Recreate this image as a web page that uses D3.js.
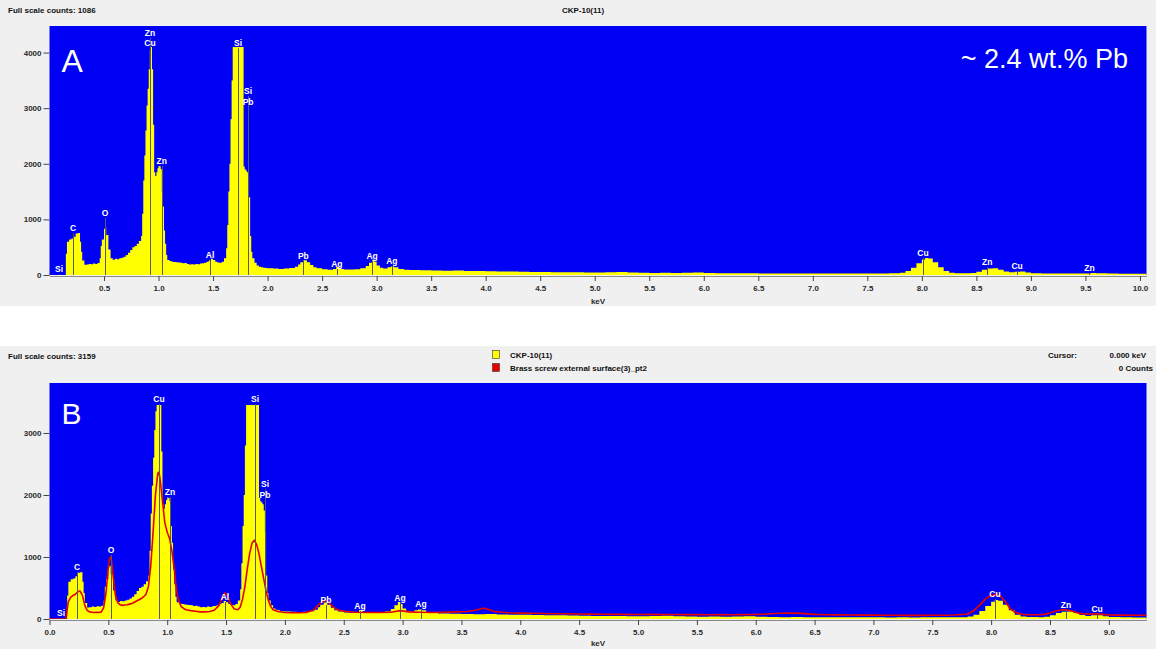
<!DOCTYPE html>
<html>
<head>
<meta charset="utf-8">
<script src="https://cdn.jsdelivr.net/npm/d3@7"></script>
<style>
  html, body { margin: 0; padding: 0; background: #ffffff; }
  svg { display: block; }
  text { font-family: "Liberation Sans", Arial, sans-serif; }
</style>
</head>
<body>
<svg id="chart" width="1156" height="649"></svg>
<script>
// ---- Spectrum of sample CKP-10(11): [keV, counts] ----
const sampleSpectrum = [
  [0.00,0],[0.14,0],[0.15,380],[0.16,600],[0.18,640],[0.20,655],[0.22,690],[0.24,745],[0.26,755],
  [0.28,600],[0.29,420],[0.30,260],[0.32,185],[0.34,190],[0.36,200],[0.38,195],[0.40,205],[0.42,200],
  [0.44,215],[0.46,300],[0.47,520],[0.48,640],[0.50,830],[0.51,860],[0.52,720],[0.54,460],[0.56,300],
  [0.58,275],[0.60,290],[0.62,285],[0.64,300],[0.66,310],[0.68,330],[0.70,360],[0.72,400],[0.74,450],
  [0.76,500],[0.78,520],[0.80,560],[0.82,610],[0.84,700],[0.85,1100],[0.86,1700],[0.87,2150],[0.88,2600],
  [0.89,3050],[0.90,3350],[0.91,3700],[0.92,4050],[0.93,4100],[0.94,3700],[0.95,2700],[0.96,1850],
  [0.97,1780],[0.98,1850],[0.99,1920],[1.00,1960],[1.01,1950],[1.02,1900],[1.03,1500],[1.04,1230],
  [1.05,800],[1.06,560],[1.07,360],[1.08,270],[1.10,250],[1.12,240],[1.14,235],[1.16,230],[1.18,225],
  [1.20,220],[1.22,210],[1.24,215],[1.26,200],[1.28,190],[1.30,195],[1.32,190],[1.34,200],[1.36,195],
  [1.38,205],[1.40,210],[1.42,220],[1.44,240],[1.46,260],[1.48,290],[1.50,270],[1.52,240],[1.54,225],
  [1.56,220],[1.58,240],[1.60,300],[1.62,480],[1.63,900],[1.64,1500],[1.65,2000],[1.66,2800],[1.67,3500],
  [1.68,4100],[1.72,4100],[1.77,4100],[1.78,1950],[1.79,1900],[1.80,1880],[1.81,1850],[1.82,1750],
  [1.83,1400],[1.84,700],[1.85,420],[1.86,300],[1.88,220],[1.90,170],[1.92,150],[1.94,140],[1.96,130],
  [1.98,125],[2.00,120],[2.05,115],[2.10,110],[2.15,115],[2.20,125],[2.25,150],[2.28,190],[2.30,230],
  [2.33,265],[2.36,230],[2.39,180],[2.42,140],[2.45,120],[2.50,105],[2.55,95],[2.60,110],[2.63,145],
  [2.66,110],[2.70,100],[2.75,100],[2.80,105],[2.85,120],[2.90,160],[2.93,220],[2.96,275],[2.98,240],
  [3.00,170],[3.03,130],[3.06,115],[3.10,140],[3.13,155],[3.16,140],[3.20,110],[3.25,95],[3.30,90],
  [3.40,85],[3.50,82],[3.60,78],[3.70,80],[3.80,74],[3.90,70],[4.00,68],[4.10,64],[4.20,62],[4.30,60],
  [4.40,56],[4.50,54],[4.60,50],[4.70,48],[4.80,50],[4.90,45],[5.00,44],[5.10,48],[5.20,52],[5.30,46],
  [5.40,40],[5.50,38],[5.60,40],[5.70,36],[5.80,42],[5.90,46],[6.00,35],[6.10,32],[6.20,30],[6.30,31],
  [6.40,30],[6.50,28],[6.60,29],[6.70,28],[6.80,27],[6.90,28],[7.00,27],[7.10,26],[7.20,27],[7.30,26],
  [7.40,27],[7.50,28],[7.60,28],[7.70,30],[7.80,40],[7.85,70],[7.90,130],[7.95,210],[8.00,280],
  [8.03,305],[8.06,295],[8.10,230],[8.15,140],[8.20,70],[8.25,40],[8.30,32],[8.40,30],[8.45,38],
  [8.50,60],[8.55,95],[8.60,115],[8.65,120],[8.70,95],[8.75,65],[8.80,50],[8.85,60],[8.90,62],
  [8.95,45],[9.00,32],[9.10,28],[9.20,26],[9.30,25],[9.40,26],[9.50,28],[9.55,34],[9.60,30],[9.70,25],
  [9.80,24],[9.90,23],[10.00,22],[10.06,22]
];

// ---- Spectrum of "Brass screw external surface(3)_pt2": [keV, counts] ----
const brassSpectrum = [
  [0.00,0],[0.14,0],[0.15,150],[0.16,280],[0.18,350],[0.20,380],[0.22,400],[0.24,440],[0.26,450],
  [0.28,380],[0.30,220],[0.32,140],[0.34,115],[0.36,110],[0.38,105],[0.40,110],[0.42,105],[0.44,115],
  [0.46,180],[0.48,420],[0.50,850],[0.51,980],[0.52,1000],[0.53,900],[0.54,700],[0.56,380],[0.58,260],
  [0.60,230],[0.62,220],[0.64,225],[0.66,230],[0.68,240],[0.70,250],[0.72,270],[0.74,290],[0.76,310],
  [0.78,330],[0.80,360],[0.82,400],[0.84,520],[0.86,850],[0.88,1400],[0.90,2000],[0.92,2350],[0.93,2370],
  [0.94,2250],[0.96,1900],[0.98,1550],[1.00,1400],[1.02,1300],[1.04,1100],[1.06,800],[1.08,450],
  [1.10,280],[1.12,200],[1.14,170],[1.16,150],[1.20,135],[1.24,125],[1.28,115],[1.32,115],[1.36,120],
  [1.40,140],[1.44,220],[1.47,360],[1.49,420],[1.51,380],[1.54,240],[1.57,160],[1.60,150],[1.62,190],
  [1.64,320],[1.66,520],[1.68,800],[1.70,1050],[1.72,1220],[1.74,1270],[1.76,1200],[1.78,1050],
  [1.80,850],[1.82,650],[1.84,450],[1.86,300],[1.88,200],[1.90,150],[1.94,120],[2.00,105],[2.06,100],
  [2.12,100],[2.18,105],[2.24,140],[2.28,220],[2.32,290],[2.35,300],[2.38,250],[2.42,180],[2.46,140],
  [2.52,120],[2.60,110],[2.70,105],[2.80,105],[2.90,110],[2.98,135],[3.05,115],[3.15,110],[3.25,105],
  [3.35,110],[3.45,115],[3.55,120],[3.62,140],[3.68,175],[3.72,160],[3.78,120],[3.90,100],[4.00,95],
  [4.10,92],[4.20,88],[4.30,85],[4.40,84],[4.50,80],[4.60,78],[4.70,77],[4.80,75],[4.90,74],[5.00,72],
  [5.10,74],[5.20,70],[5.30,72],[5.40,70],[5.50,72],[5.60,68],[5.70,70],[5.80,68],[5.90,70],[6.00,72],
  [6.10,80],[6.20,92],[6.30,95],[6.40,90],[6.50,75],[6.60,68],[6.70,66],[6.80,64],[6.90,62],[7.00,62],
  [7.10,60],[7.20,60],[7.30,58],[7.40,58],[7.50,60],[7.60,60],[7.70,64],[7.80,80],[7.85,130],[7.90,220],
  [7.95,320],[8.00,380],[8.04,400],[8.08,370],[8.12,280],[8.16,170],[8.20,110],[8.25,80],[8.30,70],
  [8.40,68],[8.45,75],[8.50,95],[8.55,130],[8.60,150],[8.65,145],[8.70,120],[8.75,90],[8.80,80],
  [8.90,85],[8.95,75],[9.00,65],[9.10,62],[9.20,60],[9.32,60]
];

// ---- Peak identification labels: [element, keV, label height in counts] ----
const peakLabelsA = [
  ["Si",0.087,108],["C",0.216,836],["O",0.509,1115],["Zn",0.922,4358],["Cu",0.922,4167],
  ["Zn",1.029,2050],["Al",1.472,360],["Si",1.729,4167],["Si",1.821,3309],["Pb",1.821,3111],
  ["Pb",2.328,347],["Ag",2.635,198],["Ag",2.959,342],["Ag",3.140,252],["Cu",8.010,401],
  ["Zn",8.600,234],["Cu",8.874,162],["Zn",9.537,126]
];
const peakLabelsB = [
  ["Si",0.098,97],["C",0.234,839],["O",0.523,1113],["Cu",0.930,3548],["Zn",1.024,2048],
  ["Al",1.491,355],["Si",1.746,3548],["Si",1.831,2177],["Pb",1.831,2000],["Pb",2.349,306],
  ["Ag",2.638,210],["Ag",2.978,339],["Ag",3.156,242],["Cu",8.033,403],["Zn",8.636,226],["Cu",8.900,161]
];

// ---- Axis ticks ----
const xTicksA = [0.5,1.0,1.5,2.0,2.5,3.0,3.5,4.0,4.5,5.0,5.5,6.0,6.5,7.0,7.5,8.0,8.5,9.0,9.5,10.0];
const xTicksB = [0.0,0.5,1.0,1.5,2.0,2.5,3.0,3.5,4.0,4.5,5.0,5.5,6.0,6.5,7.0,7.5,8.0,8.5,9.0];
const yTicksA = [0,1000,2000,3000,4000];
const yTicksB = [0,1000,2000,3000];

const W = 1156, H = 649;
const svg = d3.select("#chart");

const BLUE = "#0000f4", YELLOW = "#ffff00", RED = "#e60000", AXIS_TXT = "#2b2b2b";

function drawPanel(p) {
  const g = svg.append("g");
  g.append("rect").attr("x", 0).attr("y", p.bgTop).attr("width", W)
    .attr("height", p.bgBottom - p.bgTop).attr("fill", "#f0f0f0");

  const x = d3.scaleLinear().domain([0, p.kevMax]).range([p.left, p.right]);
  const y = d3.scaleLinear().domain([0, p.countMax]).range([p.bottom, p.top]);

  // plot background
  g.append("rect").attr("x", p.left).attr("y", p.top)
    .attr("width", p.right - p.left).attr("height", p.bottom - p.top).attr("fill", BLUE);

  const clipId = "clip-" + p.id;
  svg.append("defs").append("clipPath").attr("id", clipId)
    .append("rect").attr("x", p.left).attr("y", p.top)
    .attr("width", p.right - p.left).attr("height", p.bottom - p.top);
  const plot = g.append("g").attr("clip-path", `url(#${clipId})`);

  // filled spectrum
  const area = d3.area()
    .x(d => x(d[0]))
    .y0(y(0))
    .y1(d => y(Math.min(d[1], p.clip)))
    .curve(d3.curveStepAfter);
  plot.append("path").datum(p.fill).attr("d", area).attr("fill", YELLOW);

  // overlay spectrum
  if (p.line) {
    const line = d3.line().x(d => x(d[0])).y(d => y(d[1])).curve(d3.curveLinear);
    plot.append("path").datum(p.line).attr("d", line)
      .attr("fill", "none").attr("stroke", RED).attr("stroke-width", 1.6)
      .attr("stroke-linejoin", "round");
  }

  // peak marker lines and labels
  plot.selectAll("line.marker").data(p.labels).join("line")
    .attr("class", "marker")
    .attr("x1", d => Math.round(x(d[1])) + 0.5).attr("x2", d => Math.round(x(d[1])) + 0.5)
    .attr("y1", d => y(d[2]) + 5).attr("y2", p.bottom)
    .attr("stroke", "#5a5a5a").attr("stroke-width", 1);
  plot.selectAll("text.peak").data(p.labels).join("text")
    .attr("class", "peak")
    .attr("x", d => x(d[1])).attr("y", d => y(d[2]))
    .attr("dy", "0.35em").attr("text-anchor", "middle")
    .attr("fill", "#ffffff").attr("font-size", 8.5).attr("font-weight", "bold")
    .text(d => d[0]);

  // y axis
  const yAxis = d3.axisLeft(y).tickValues(p.yTicks).tickSize(6).tickPadding(2).tickFormat(d3.format("d"));
  const ya = g.append("g").attr("transform", `translate(${p.left},0)`).call(yAxis);
  ya.select(".domain").remove();
  ya.selectAll(".tick line").attr("stroke", "#444");
  ya.selectAll(".tick text").attr("fill", AXIS_TXT).attr("font-size", 8)
    .attr("font-weight", "bold").attr("font-family", "Liberation Sans, Arial, sans-serif");

  // x axis
  const xAxis = d3.axisBottom(x).tickValues(p.xTicks).tickSize(5).tickSizeOuter(0)
    .tickPadding(4).tickFormat(d3.format(".1f"));
  const xa = g.append("g").attr("transform", `translate(0,${p.bottom + 1})`).call(xAxis);
  xa.select(".domain").attr("stroke", "#8a8a8a");
  xa.selectAll(".tick line").attr("stroke", "#444");
  xa.selectAll(".tick text").attr("fill", AXIS_TXT).attr("font-size", 8)
    .attr("font-weight", "bold").attr("font-family", "Liberation Sans, Arial, sans-serif");

  g.append("text").attr("x", 598).attr("y", p.kevY).attr("text-anchor", "middle")
    .attr("fill", AXIS_TXT).attr("font-size", 8).attr("font-weight", "bold").text("keV");

  // header
  g.append("text").attr("x", 8).attr("y", p.bgTop + 13).attr("fill", "#111")
    .attr("font-size", 8).attr("font-weight", "bold").text(p.fullScale);

  // panel letter
  g.append("text").attr("x", p.left + 12).attr("y", p.letterY).attr("fill", "#ffffff")
    .attr("font-size", p.letterSize).text(p.letter);

  return { g, x, y };
}

// Panel A
const A = drawPanel({
  id: "a", bgTop: 0, bgBottom: 306,
  left: 49.5, right: 1146.5, top: 26, bottom: 275,
  kevMax: 10.06, countMax: 4478, clip: 4100,
  fill: sampleSpectrum, line: null, labels: peakLabelsA,
  xTicks: xTicksA, yTicks: yTicksA, kevY: 304,
  fullScale: "Full scale counts: 1086", letter: "A", letterY: 72, letterSize: 32
});
A.g.append("text").attr("x", 1128).attr("y", 13).attr("text-anchor", "middle")
  .attr("x", 583)
  .attr("fill", "#111").attr("font-size", 8).attr("font-weight", "bold").text("CKP-10(11)");
A.g.append("text").attr("x", 1128).attr("y", 68).attr("text-anchor", "end")
  .attr("fill", "#ffffff").attr("font-size", 27).text("~ 2.4 wt.% Pb");

// Panel B
const B = drawPanel({
  id: "b", bgTop: 346, bgBottom: 649,
  left: 49.5, right: 1146.5, top: 383, bottom: 619,
  kevMax: 9.32, countMax: 3806, clip: 3450,
  fill: sampleSpectrum, line: brassSpectrum, labels: peakLabelsB,
  xTicks: xTicksB, yTicks: yTicksB, kevY: 646,
  fullScale: "Full scale counts: 3159", letter: "B", letterY: 424, letterSize: 30
});

// legend
const legendItems = [["CKP-10(11)", YELLOW], ["Brass screw external surface(3)_pt2", RED]];
const leg = B.g.append("g");
leg.selectAll("rect").data(legendItems).join("rect")
  .attr("x", 492.5).attr("y", (d, i) => 350.5 + i * 13).attr("width", 7).attr("height", 8)
  .attr("fill", d => d[1]).attr("stroke", "#333").attr("stroke-width", 0.6);
leg.selectAll("text").data(legendItems).join("text")
  .attr("x", 510).attr("y", (d, i) => 358 + i * 13)
  .attr("fill", "#111").attr("font-size", 8).attr("font-weight", "bold").text(d => d[0]);

// cursor readout
B.g.append("text").attr("x", 1048).attr("y", 358).attr("fill", "#111")
  .attr("font-size", 8).attr("font-weight", "bold").text("Cursor:");
B.g.append("text").attr("x", 1146).attr("y", 358).attr("text-anchor", "end").attr("fill", "#111")
  .attr("font-size", 8).attr("font-weight", "bold").text("0.000 keV");
B.g.append("text").attr("x", 1153).attr("y", 371).attr("text-anchor", "end").attr("fill", "#111")
  .attr("font-size", 8).attr("font-weight", "bold").text("0 Counts");
</script>
</body>
</html>
